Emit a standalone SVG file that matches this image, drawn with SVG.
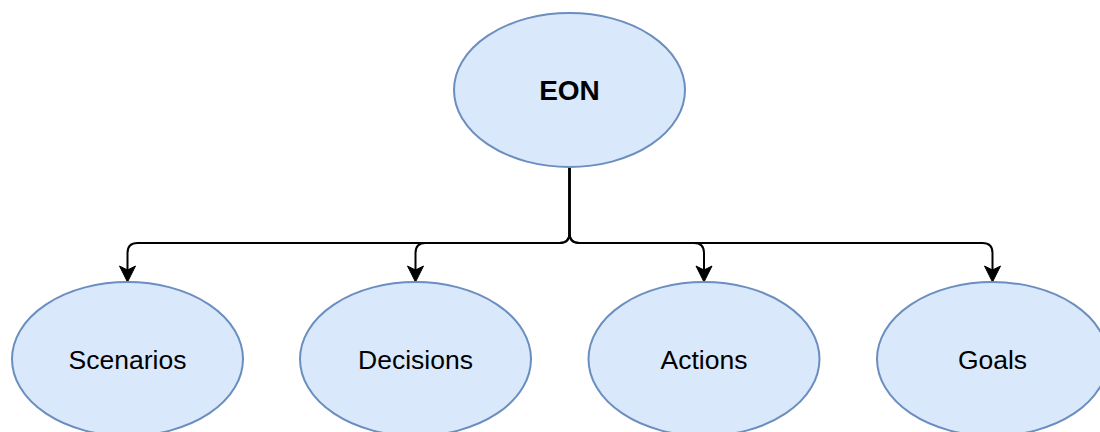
<svg xmlns="http://www.w3.org/2000/svg" width="1100" height="432" viewBox="0 0 1100 432">
  <style>
    .node ellipse { fill: #dae8fc; stroke: #6c8ebf; stroke-width: 2; }
    .node text { font-family: "Liberation Sans", Arial, sans-serif; font-size: 26.5px; fill: #000; text-anchor: middle; }
    .node text.bold { font-weight: bold; font-size: 28px; }
    .edge { fill: none; stroke: #000; stroke-width: 2; }
  </style>
  <defs>
    <marker id="arrow" markerUnits="userSpaceOnUse" markerWidth="20" markerHeight="20" refX="5" refY="9.5" orient="auto">
      <path d="M1,1.5 L17,9.5 L1,17.5 L5,9.5 Z" fill="#000" stroke="#000" stroke-width="1"/>
    </marker>
  </defs>

  <rect width="1100" height="432" fill="#fff"/>

  <!-- connectors from the root to each child -->
  <g id="connectors">
    <path class="edge" marker-end="url(#arrow)" d="M569.5,167 V233 Q569.5,243 559.5,243 H137.5 Q127.5,243 127.5,253 V270"/>
    <path class="edge" marker-end="url(#arrow)" d="M569.5,167 V233 Q569.5,243 559.5,243 H425.5 Q415.5,243 415.5,253 V270"/>
    <path class="edge" marker-end="url(#arrow)" d="M569.5,167 V233 Q569.5,243 579.5,243 H694 Q704,243 704,253 V270"/>
    <path class="edge" marker-end="url(#arrow)" d="M569.5,167 V233 Q569.5,243 579.5,243 H982.5 Q992.5,243 992.5,253 V270"/>
  </g>

  <g id="eon" class="node">
    <ellipse cx="569.5" cy="90" rx="115.5" ry="77"/>
    <text class="bold" x="569.5" y="100">EON</text>
  </g>

  <g id="scenarios" class="node">
    <ellipse cx="127.5" cy="359" rx="115.5" ry="77"/>
    <text x="127.5" y="369">Scenarios</text>
  </g>

  <g id="decisions" class="node">
    <ellipse cx="415.5" cy="359" rx="115.5" ry="77"/>
    <text x="415.5" y="369">Decisions</text>
  </g>

  <g id="actions" class="node">
    <ellipse cx="704" cy="359" rx="115.5" ry="77"/>
    <text x="704" y="369">Actions</text>
  </g>

  <g id="goals" class="node">
    <ellipse cx="992.5" cy="359" rx="115.5" ry="77"/>
    <text x="992.5" y="369">Goals</text>
  </g>
</svg>
